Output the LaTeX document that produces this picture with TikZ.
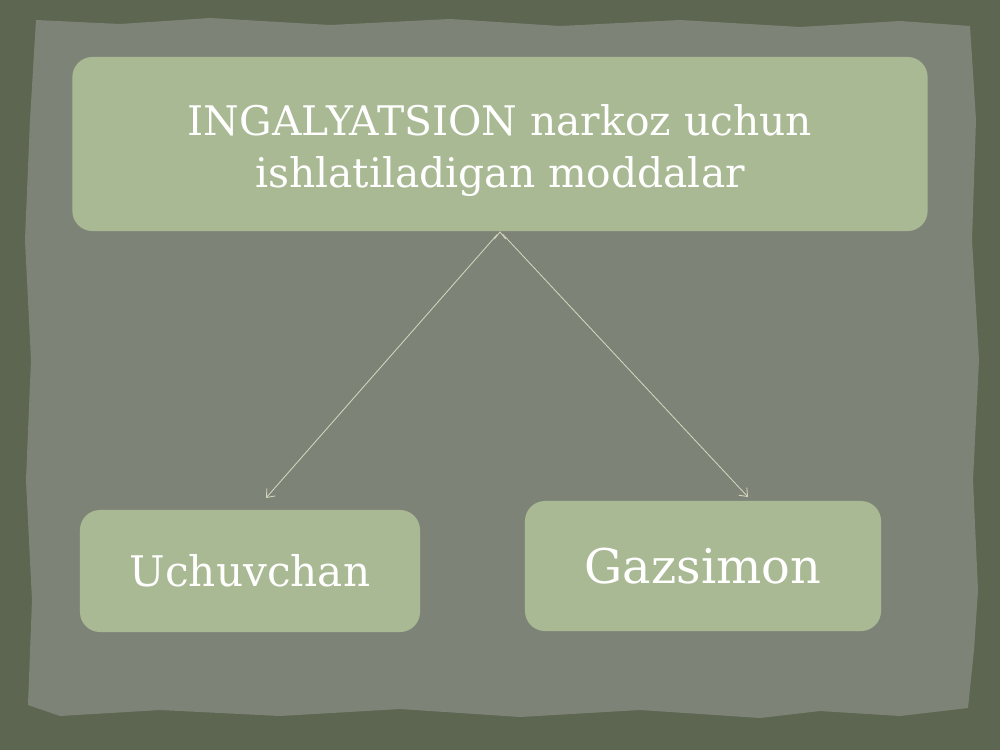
\documentclass[tikz,border=0pt]{standalone}
\usepackage{fontspec}
\setmainfont{DejaVu Serif}
\usetikzlibrary{positioning,arrows,arrows.meta}

\definecolor{slate}{HTML}{5D6651}
\definecolor{paper}{HTML}{7E8378}
\definecolor{sage}{HTML}{A9B993}
\definecolor{wire}{HTML}{D3D6BD}

\begin{document}
\begin{tikzpicture}[x=0.025cm,y=-0.025cm,
    box/.style={fill=sage,rounded corners=0.5cm,text=white,align=center,inner sep=0pt}]
    \useasboundingbox (0,0) rectangle (1000,750);
    % background and torn paper
    \fill[slate] (0,0) rectangle (1000,750);
    \fill[paper] (36,20) -- (120,24) -- (210,18) -- (330,25) -- (450,19) -- (560,26)
        -- (680,20) -- (800,27) -- (900,21) -- (970,26) -- (976,120) -- (972,240)
        -- (979,360) -- (973,480) -- (978,590) -- (974,650) -- (968,708) -- (900,716)
        -- (820,711) -- (760,718) -- (640,710) -- (520,717) -- (400,709) -- (280,716)
        -- (160,710) -- (60,716) -- (28,705) -- (32,600) -- (26,480) -- (31,360)
        -- (25,240) -- (30,120) -- cycle;
    % boxes
    \node[box,minimum width=21.375cm,minimum height=4.35cm,
        font=\fontsize{29}{37}\selectfont] (moddalar) at (500,144)
        {\rule{0pt}{1.12cm}INGALYATSION narkoz uchun\\ishlatiladigan moddalar};
    \node[box,minimum width=8.5cm,minimum height=3.05cm,
        font=\fontsize{30}{36}\selectfont] (uchuvchan) at (250,571) {Uchuvchan};
    \node[box,minimum width=8.9cm,minimum height=3.25cm,
        font=\fontsize{34}{40}\selectfont] (gazsimon) at (703,566) {Gazsimon};
    % arrow ends
    \coordinate (uend) at (266,498);
    \coordinate (gend) at (748,497);
    \path[-{Straight Barb[length=5pt,width=8pt]},draw=wire,line width=0.6pt,shorten <=3pt]
        (moddalar.south) edge (uend)
        (moddalar.south) edge (gend);
\end{tikzpicture}
\end{document}
